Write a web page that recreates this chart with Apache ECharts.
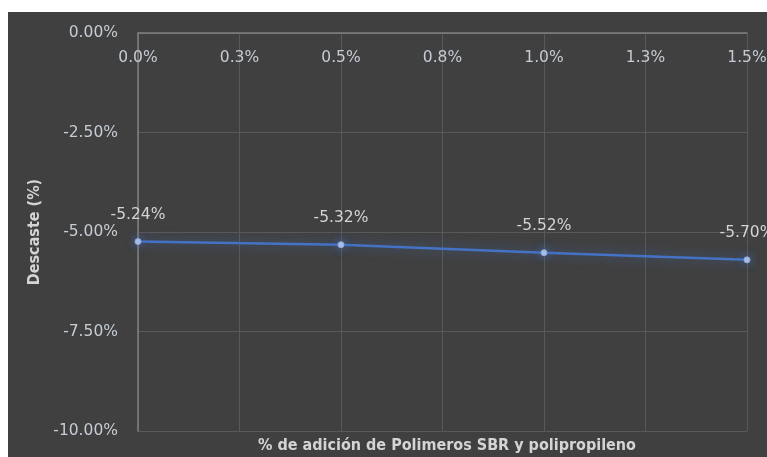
<!DOCTYPE html>
<html><head><meta charset="utf-8">
<script src="https://cdn.jsdelivr.net/npm/echarts@6/dist/echarts.min.js"></script>
<style>
html,body{margin:0;padding:0;background:#fff;width:767px;height:457px;overflow:hidden;}
#c{position:absolute;left:8px;top:12px;width:759px;height:445px;}
</style></head>
<body><div id="c"></div>
<script>
const xValues = [0, 0.5, 1.0, 1.5];
const yValues = [-5.24, -5.32, -5.52, -5.70];
const xTickLabels = ['0.0%', '0.3%', '0.5%', '0.8%', '1.0%', '1.3%', '1.5%'];
const yTickLabels = ['-10.00%', '-7.50%', '-5.00%', '-2.50%', '0.00%'];
const yAxisTitle = 'Descaste (%)';
const xAxisTitle = '% de adición de Polimeros SBR y polipropileno';

const chart = echarts.init(document.getElementById('c'), null, {renderer: 'canvas'});
const labelFont = '"DejaVu Sans", sans-serif';
const titleFont = '"DejaVu Sans Condensed", sans-serif';
chart.setOption({
  backgroundColor: '#404040',
  animation: false,
  title: {
    text: xAxisTitle, left: 434, top: 421, textAlign: 'center',
    textStyle: {color: '#d4d4d4', fontSize: 16, fontWeight: 'bold', fontFamily: titleFont}
  },
  grid: {left: 130, top: 21, right: 20, bottom: 26, containLabel: false, outerBoundsMode: 'none'},
  xAxis: {
    type: 'value', position: 'top', min: 0, max: 1.5, interval: 0.25,
    axisLine: {show: true, onZero: false, lineStyle: {color: '#808080', width: 1.5}},
    axisTick: {show: false},
    axisLabel: {inside: true, margin: 17, color: '#c6ccd4', fontSize: 15.5, fontFamily: labelFont,
      formatter: (v) => xTickLabels[Math.round(v / 0.25)]},
    splitLine: {show: true, lineStyle: {color: '#595959', width: 1}}
  },
  yAxis: {
    type: 'value', min: -10, max: 0, interval: 2.5,
    name: yAxisTitle, nameLocation: 'middle', nameGap: 90, nameRotate: 90,
    nameTextStyle: {color: '#d4d4d4', fontSize: 16, fontWeight: 'bold', fontFamily: titleFont},
    axisLine: {show: true, lineStyle: {color: '#808080', width: 1.5}},
    axisTick: {show: false},
    axisLabel: {margin: 20, color: '#c6ccd4', fontSize: 15.5, fontFamily: labelFont,
      formatter: (v) => yTickLabels[Math.round((v + 10) / 2.5)]},
    splitLine: {show: true, lineStyle: {color: '#595959', width: 1}}
  },
  series: [{
    type: 'line',
    data: xValues.map((x, i) => [x, yValues[i]]),
    symbol: 'circle', symbolSize: 6,
    itemStyle: {color: '#b4c6e7', borderColor: '#8faadc', borderWidth: 1, shadowColor: 'rgba(68,114,196,0.9)', shadowBlur: 8},
    lineStyle: {color: '#4472c4', width: 2.5, shadowColor: 'rgba(68,114,196,0.7)', shadowBlur: 12},
    label: {show: true, position: 'top', distance: 15, color: '#d4d4d4', fontSize: 15.5, fontFamily: labelFont,
      formatter: (p) => yValues[p.dataIndex].toFixed(2) + '%'},
    z: 5
  }]
});
</script></body></html>
